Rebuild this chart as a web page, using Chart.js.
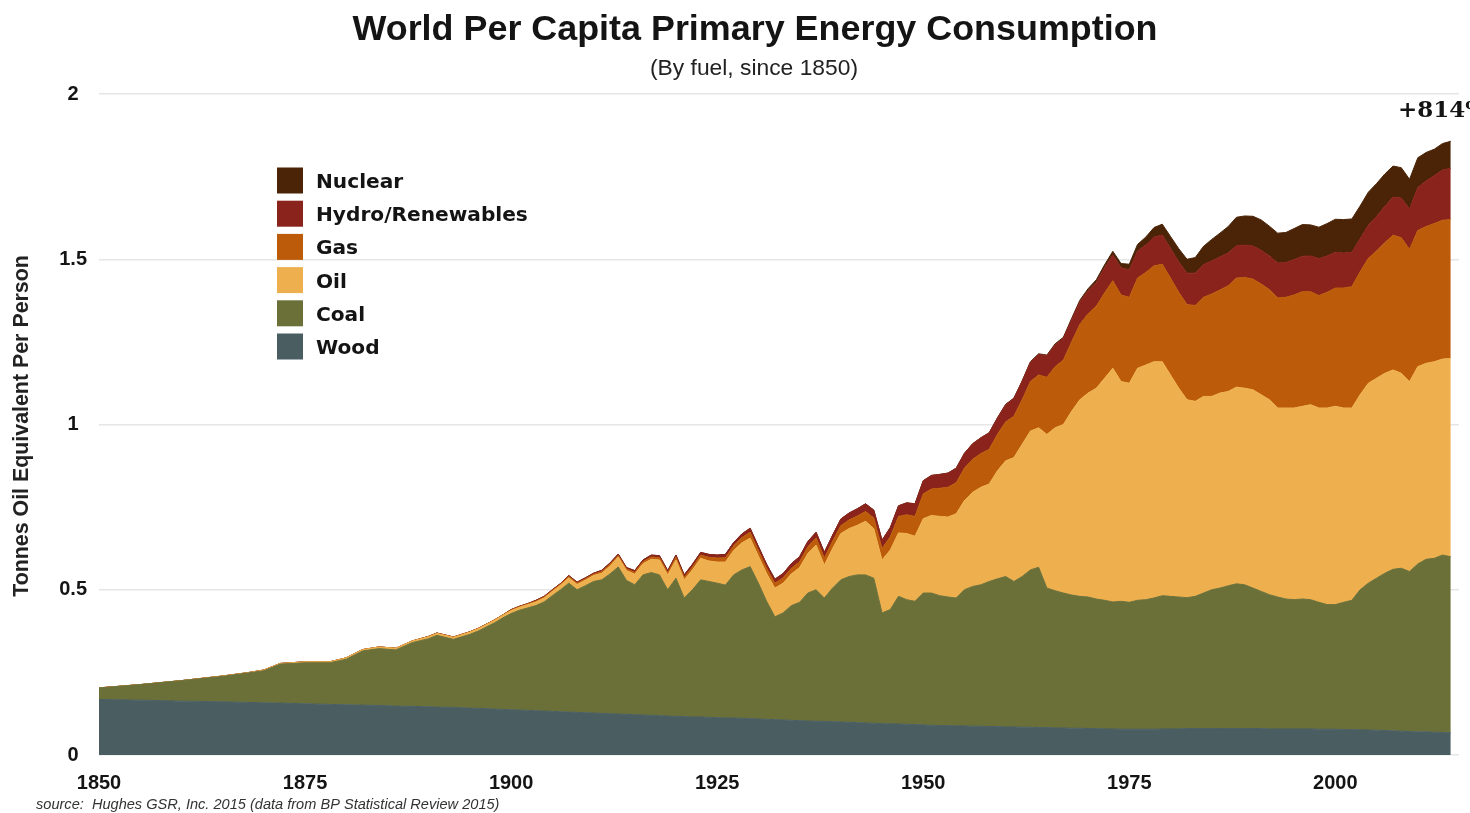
<!DOCTYPE html>
<html>
<head>
<meta charset="utf-8">
<script src="https://cdn.jsdelivr.net/npm/chart.js@4.4.1/dist/chart.umd.min.js"></script>
<style>
html,body{margin:0;padding:0;background:#fff;overflow:hidden}
#wrap{width:1470px;height:813px;position:relative}
</style>
</head>
<body>
<div id="wrap"><canvas id="c" width="1470" height="813"></canvas></div>
<script>
// ---------- DATA (tonnes oil equivalent per person) ----------
const years = [
  1850,1855,1860,1865,1868,1870,1872,1875,1878,1880,1882,1884,1886,1888,1890,1891,1893,1895,1896,1898,1899,
  1900,1901,1902,1903,1904,1905,1906,1907,1908,1909,
  1910,1911,1912,1913,1914,1915,1916,1917,1918,1919,
  1920,1921,1922,1923,1924,1925,1926,1927,1928,1929,
  1930,1931,1932,1933,1934,1935,1936,1937,1938,1939,
  1940,1941,1942,1943,1944,1945,1946,1947,1948,1949,
  1950,1951,1952,1953,1954,1955,1956,1957,1958,1959,
  1960,1961,1962,1963,1964,1965,1966,1967,1968,1969,
  1970,1971,1972,1973,1974,1975,1976,1977,1978,1979,
  1980,1981,1982,1983,1984,1985,1986,1987,1988,1989,
  1990,1991,1992,1993,1994,1995,1996,1997,1998,1999,
  2000,2001,2002,2003,2004,2005,2006,2007,2008,2009,
  2010,2011,2012,2013,2014
];

const wood = [
  0.168,0.166,0.163,0.161,0.159,0.158,0.157,0.155,0.153,0.152,0.151,0.150,0.148,0.147,0.146,0.145,0.144,0.142,0.141,0.139,0.138,
  0.137,0.136,0.135,0.134,0.133,0.132,0.131,0.130,0.129,0.128,
  0.127,0.126,0.125,0.124,0.123,0.122,0.121,0.120,0.119,0.118,
  0.117,0.116,0.115,0.115,0.114,0.113,0.112,0.112,0.111,0.110,
  0.109,0.108,0.107,0.106,0.105,0.104,0.103,0.102,0.102,0.101,
  0.100,0.099,0.098,0.097,0.096,0.095,0.094,0.094,0.093,0.092,
  0.091,0.090,0.089,0.089,0.088,0.088,0.087,0.087,0.086,0.086,
  0.085,0.085,0.084,0.084,0.083,0.083,0.082,0.082,0.081,0.081,
  0.080,0.080,0.079,0.079,0.078,0.078,0.078,0.078,0.078,0.079,
  0.079,0.079,0.080,0.080,0.080,0.080,0.080,0.080,0.080,0.080,
  0.080,0.080,0.079,0.079,0.079,0.079,0.079,0.079,0.078,0.078,
  0.078,0.077,0.077,0.076,0.076,0.075,0.074,0.073,0.072,0.071,
  0.070,0.070,0.069,0.068,0.067
];

const coal = [
  0.035,0.047,0.062,0.077,0.089,0.097,0.118,0.124,0.126,0.138,0.164,0.172,0.170,0.193,0.206,0.217,0.206,0.223,0.234,0.261,0.277,
  0.291,0.302,0.310,0.318,0.330,0.350,0.369,0.390,0.371,0.384,
  0.398,0.404,0.423,0.445,0.405,0.393,0.424,0.432,0.426,0.382,
  0.418,0.359,0.385,0.415,0.411,0.407,0.402,0.433,0.449,0.460,
  0.411,0.357,0.311,0.324,0.347,0.358,0.387,0.398,0.373,0.404,
  0.430,0.441,0.447,0.448,0.439,0.335,0.346,0.386,0.377,0.373,
  0.399,0.400,0.393,0.389,0.387,0.412,0.423,0.428,0.439,0.447,
  0.455,0.440,0.456,0.476,0.485,0.422,0.415,0.408,0.403,0.399,
  0.398,0.392,0.389,0.384,0.387,0.384,0.390,0.392,0.397,0.403,
  0.401,0.399,0.396,0.400,0.410,0.420,0.425,0.432,0.438,0.435,
  0.425,0.415,0.406,0.399,0.393,0.391,0.393,0.391,0.384,0.377,
  0.377,0.385,0.391,0.424,0.444,0.460,0.476,0.489,0.493,0.484,
  0.508,0.522,0.526,0.537,0.533
];

const oil = [
  0,0,0,0.001,0.001,0.002,0.002,0.003,0.003,0.004,0.004,0.005,0.005,0.005,0.006,0.006,0.006,0.007,0.007,0.008,0.008,
  0.009,0.009,0.010,0.011,0.012,0.013,0.014,0.016,0.016,0.017,
  0.018,0.020,0.024,0.030,0.030,0.032,0.034,0.040,0.045,0.045,
  0.055,0.055,0.060,0.065,0.062,0.064,0.070,0.074,0.082,0.086,
  0.082,0.084,0.087,0.090,0.096,0.105,0.120,0.135,0.100,0.120,
  0.140,0.145,0.150,0.162,0.150,0.160,0.180,0.192,0.200,0.197,
  0.225,0.235,0.240,0.242,0.255,0.270,0.285,0.295,0.295,0.327,
  0.350,0.375,0.400,0.420,0.422,0.465,0.493,0.510,0.556,0.595,
  0.617,0.638,0.672,0.707,0.665,0.663,0.702,0.710,0.715,0.708,
  0.670,0.632,0.599,0.590,0.595,0.585,0.590,0.588,0.595,0.595,
  0.600,0.595,0.590,0.572,0.578,0.580,0.583,0.590,0.588,0.595,
  0.600,0.588,0.582,0.590,0.605,0.605,0.605,0.603,0.590,0.575,
  0.597,0.593,0.595,0.593,0.600
];

const gas = [
  0,0,0,0,0,0,0,0,0,0,0,0,0,0,0.001,0.001,0.001,0.001,0.001,0.001,0.001,
  0.002,0.002,0.002,0.003,0.003,0.003,0.003,0.004,0.004,0.004,
  0.004,0.005,0.005,0.005,0.005,0.006,0.006,0.007,0.007,0.007,
  0.008,0.008,0.009,0.010,0.011,0.012,0.013,0.014,0.016,0.018,
  0.017,0.016,0.015,0.016,0.017,0.018,0.020,0.022,0.021,0.022,
  0.024,0.026,0.028,0.030,0.032,0.035,0.040,0.050,0.057,0.060,
  0.075,0.080,0.085,0.090,0.094,0.098,0.100,0.102,0.105,0.110,
  0.118,0.125,0.135,0.150,0.160,0.173,0.185,0.195,0.210,0.228,
  0.240,0.248,0.258,0.265,0.262,0.260,0.273,0.280,0.290,0.295,
  0.293,0.290,0.288,0.290,0.300,0.310,0.312,0.320,0.330,0.335,
  0.335,0.335,0.333,0.333,0.335,0.342,0.347,0.342,0.340,0.350,
  0.358,0.363,0.367,0.372,0.378,0.385,0.395,0.408,0.410,0.400,
  0.412,0.414,0.418,0.420,0.420
];

const hydro = [
  0,0,0,0,0,0,0,0,0,0,0,0,0,0,0,0,0,0,0,0,0,
  0.001,0.001,0.001,0.002,0.002,0.002,0.002,0.003,0.003,0.003,
  0.003,0.004,0.004,0.004,0.004,0.005,0.005,0.006,0.006,0.006,
  0.007,0.007,0.008,0.008,0.009,0.009,0.010,0.010,0.011,0.012,
  0.012,0.012,0.012,0.013,0.014,0.015,0.016,0.017,0.017,0.018,
  0.020,0.021,0.022,0.023,0.024,0.025,0.028,0.032,0.036,0.038,
  0.040,0.041,0.042,0.043,0.044,0.045,0.047,0.048,0.050,0.050,
  0.052,0.054,0.056,0.058,0.062,0.065,0.066,0.066,0.067,0.068,
  0.070,0.072,0.076,0.078,0.082,0.083,0.082,0.083,0.087,0.088,
  0.090,0.092,0.095,0.098,0.099,0.100,0.100,0.099,0.098,0.098,
  0.100,0.102,0.102,0.106,0.105,0.107,0.107,0.108,0.112,0.110,
  0.108,0.106,0.104,0.100,0.100,0.105,0.110,0.115,0.120,0.122,
  0.130,0.138,0.145,0.152,0.155
];

const nuclear = [
  0,0,0,0,0,0,0,0,0,0,0,0,0,0,0,0,0,0,0,0,0,
  0,0,0,0,0,0,0,0,0,0,
  0,0,0,0,0,0,0,0,0,0,
  0,0,0,0,0,0,0,0,0,0,
  0,0,0,0,0,0,0,0,0,0,
  0,0,0,0,0,0,0,0,0,0,
  0,0,0,0,0,0,0,0,0,0,
  0.001,0.001,0.001,0.002,0.002,0.002,0.003,0.003,0.004,0.005,
  0.006,0.008,0.009,0.011,0.013,0.017,0.020,0.024,0.029,0.033,
  0.036,0.040,0.042,0.047,0.055,0.065,0.072,0.080,0.086,0.088,
  0.090,0.092,0.090,0.090,0.091,0.094,0.096,0.094,0.095,0.098,
  0.100,0.101,0.101,0.099,0.100,0.099,0.098,0.094,0.092,0.090,
  0.090,0.086,0.080,0.080,0.082
];

const seriesNames = ['Wood','Coal','Oil','Gas','Hydro/Renewables','Nuclear'];
const seriesColors = ['#4a5e62','#6b7039','#eeb04e','#bc5c0b','#8a231b','#4b2407'];
const xTicks = [1850,1875,1900,1925,1950,1975,2000];
const yTicks = [0,0.5,1,1.5,2];

const TITLE = 'World Per Capita Primary Energy Consumption';
const SUBTITLE = '(By fuel, since 1850)';
const YTITLE = 'Tonnes Oil Equivalent Per Person';
const SOURCE = 'source:  Hughes GSR, Inc. 2015 (data from BP Statistical Review 2015)';
const CHANGE_LABEL = '+814%';

// ---------- CHART ----------
const SANS = "'Liberation Sans', Arial, sans-serif";
const LEG = "'DejaVu Sans', 'Liberation Sans', sans-serif";

function mk(i, arr) {
  return {
    label: seriesNames[i],
    data: years.map((x, k) => ({x: x, y: arr[k]})),
    backgroundColor: seriesColors[i],
    borderColor: seriesColors[i],
    borderWidth: 1,
    pointRadius: 0,
    pointHoverRadius: 0,
    tension: 0,
    fill: i === 0 ? 'origin' : '-1'
  };
}

function fitSize(ctx, text, style, weight, family, targetW) {
  ctx.font = `${style} ${weight} 100px ${family}`;
  const w = ctx.measureText(text).width;
  return 100 * targetW / w;
}

// draw text at given font size, horizontally squeezed to a target width (condensed look)
function squeezed(ctx, text, font, cx, y, targetW) {
  ctx.font = font;
  const w = ctx.measureText(text).width;
  const sx = targetW / w;
  ctx.save();
  ctx.translate(cx, y);
  ctx.scale(sx, 1);
  ctx.textAlign = 'center';
  ctx.textBaseline = 'alphabetic';
  ctx.fillText(text, 0, 0);
  ctx.restore();
}

const decor = {
  id: 'decor',
  afterDraw(chart) {
    const ctx = chart.ctx;
    ctx.save();
    ctx.fillStyle = '#141414';
    // Title (condensed bold)
    squeezed(ctx, TITLE, `bold 35px ${SANS}`, 755, 40, 805);
    // Subtitle (condensed)
    ctx.fillStyle = '#222';
    squeezed(ctx, SUBTITLE, `22px ${SANS}`, 754, 75, 208);
    // Y axis title
    let s = fitSize(ctx, YTITLE, 'normal', 'bold', SANS, 342);
    ctx.save();
    ctx.translate(22, 426);
    ctx.rotate(-Math.PI / 2);
    ctx.font = `bold ${s}px ${SANS}`;
    ctx.fillStyle = '#222';
    ctx.textAlign = 'center';
    ctx.textBaseline = 'middle';
    ctx.fillText(YTITLE, 0, 0);
    ctx.restore();
    // Legend (reverse order: Nuclear on top)
    const ds = chart.data.datasets.slice().reverse();
    s = fitSize(ctx, 'Hydro/Renewables', 'normal', 'bold', LEG, 212);
    ctx.font = `bold ${s}px ${LEG}`;
    ctx.textAlign = 'left';
    ctx.textBaseline = 'alphabetic';
    ds.forEach((d, i) => {
      const cy = 180.5 + i * 33.2;
      ctx.fillStyle = d.backgroundColor;
      ctx.fillRect(277, cy - 13, 26, 26);
      ctx.fillStyle = '#141414';
      ctx.fillText(d.label, 316, cy + 7.5);
    });
    // Change label
    ctx.font = `bold 23px 'DejaVu Serif', serif`;
    ctx.fillStyle = '#141414';
    ctx.textAlign = 'left';
    ctx.fillText(CHANGE_LABEL, 1398, 117);
    // Source
    s = fitSize(ctx, SOURCE, 'italic', 'normal', SANS, 464);
    ctx.font = `italic ${s}px ${SANS}`;
    ctx.fillStyle = '#333';
    ctx.fillText(SOURCE, 36, 809);
    ctx.restore();
  }
};

new Chart(document.getElementById('c'), {
  type: 'line',
  data: {
    datasets: [mk(0, wood), mk(1, coal), mk(2, oil), mk(3, gas), mk(4, hydro), mk(5, nuclear)]
  },
  options: {
    responsive: false,
    animation: false,
    devicePixelRatio: 1,
    layout: {padding: {top: 94, right: 11, left: 0, bottom: 0}},
    plugins: {legend: {display: false}, tooltip: {enabled: false}},
    elements: {line: {borderJoinStyle: 'round'}},
    scales: {
      x: {
        type: 'linear',
        min: 1850,
        max: 2015,
        afterBuildTicks: (scale) => { scale.ticks = xTicks.map(v => ({value: v})); },
        ticks: {
          autoSkip: false, maxRotation: 0, includeBounds: false,
          padding: 16,
          color: '#141414',
          font: {family: SANS, size: 20, weight: 'bold'},
          callback: (v) => String(v)
        },
        grid: {display: false, drawTicks: false, tickLength: 0},
        border: {display: false},
        afterFit: (scale) => { scale.height = 58; }
      },
      y: {
        stacked: true,
        min: 0,
        max: 2,
        afterBuildTicks: (scale) => { scale.ticks = yTicks.map(v => ({value: v})); },
        ticks: {
          padding: 12,
          crossAlign: 'center',
          color: '#141414',
          font: {family: SANS, size: 20, weight: 'bold'},
          callback: (v) => String(v)
        },
        grid: {color: '#e6e6e6', lineWidth: 1.5, drawTicks: false, tickLength: 0},
        border: {display: false},
        afterFit: (scale) => { scale.width = 99; }
      }
    }
  },
  plugins: [decor]
});
</script>
</body>
</html>
